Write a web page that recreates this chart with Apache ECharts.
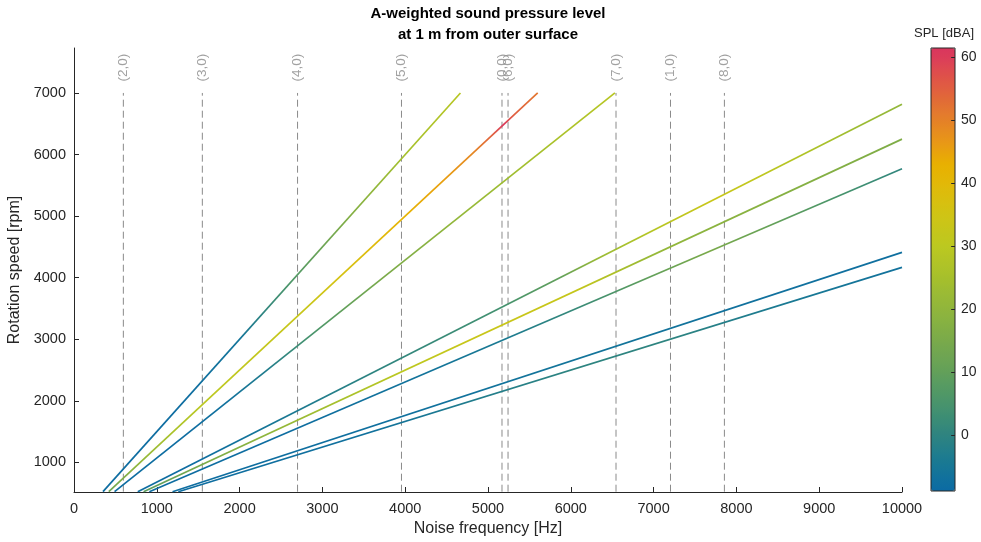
<!DOCTYPE html>
<html><head><meta charset="utf-8">
<script src="https://cdn.jsdelivr.net/npm/echarts@6/dist/echarts.min.js"></script>
<style>html,body{margin:0;padding:0;background:#fff}#c{width:981px;height:542px}</style>
</head><body><div id="c"></div>
<script>
// ---------- data ----------
const xTicks = [0,1000,2000,3000,4000,5000,6000,7000,8000,9000,10000];
const yTicks = [1000,2000,3000,4000,5000,6000,7000];
const splTicks = [0,10,20,30,40,50,60];

// vertical (mode) lines: frequency [Hz] and label
const modeFreqs  = [596, 1550, 2700, 3955, 5169, 5242, 6546, 7204, 7855];
const modeLabels = ['(2,0)','(3,0)','(4,0)','(5,0)','(0,0)','(6,0)','(7,0)','(1,0)','(8,0)'];

// order lines: start and end points [frequency Hz, rpm]
const lineStart = [[350,525],[420,525],[490,525],[770,525],[840,525],[910,525],[1190,525],[1260,525]];
const lineEnd   = [[4667,7000],[5600,7000],[6533,7000],[10000,6818],[10000,6250],[10000,5769],[10000,4412],[10000,4167]];

// SPL [dBA] along each line: [rpm, SPL]
const splA = [[525,-8],[2000,-8],[2500,-7],[3000,-6],[3500,1],[4000,7],[4500,12],[5000,17],[5500,21],[6000,25],[6500,27],[7000,29]];
const splB = [[525,12],[1000,20],[1500,26],[2000,30],[2500,31],[3000,32],[3500,33],[4000,36],[4500,39],[5000,42],[5500,45],[6000,49],[6300,55],[6450,61],[6600,55],[7000,51]];
const splC = [[525,-8],[1500,-8],[2000,-7],[2500,-3],[3000,4],[3500,10],[4000,15],[4500,18],[5000,21],[5500,23],[6000,25],[6500,27],[7000,29]];
const splD = [[525,-8],[1000,-8],[1500,-6],[2000,-3],[2500,0],[3000,2],[3500,4],[4000,10],[4300,22],[4700,28],[5200,33],[5600,31],[6000,27],[6400,23],[6818,20]];
const splE = [[525,8],[1000,15],[1500,20],[2000,25],[2500,30],[3000,33],[3500,33],[3800,32],[4300,22],[4700,19],[5200,18],[5700,17],[6250,16]];
const splF = [[525,-8],[1500,-8],[2000,-7],[2500,-6],[3000,-4],[3500,2],[4000,10],[4400,15],[4800,11],[5300,5],[5769,0]];
const splG = [[525,-8],[1500,-7.5],[2500,-6],[3000,-6],[3500,-7],[4412,-7.5]];
const splH = [[525,-8],[1500,-7],[2000,-3],[2500,0],[3000,0],[3500,-4],[4167,-7]];
const splLines = [splA, splB, splC, splD, splE, splF, splG, splH];

const splMin = -8.9, splMax = 61.4;

// ---------- style ----------
const FONT = 'Liberation Sans, Arial, Helvetica, sans-serif';
const AX = '#262626';
const cmap = [[-9,'#0b6aa4'],[-5,'#167796'],[0,'#2e8480'],[5,'#48946c'],[10,'#62a05a'],[15,'#7aaa4a'],[20,'#90b63c'],[25,'#a6c02c'],[30,'#bcc820'],[35,'#d0c414'],[40,'#e2b808'],[43,'#e8b000'],[46,'#e89a14'],[50,'#e48028'],[55,'#e05e40'],[60,'#dc3c5a'],[62,'#d8345e']];
function hex2rgb(h){return [parseInt(h.substr(1,2),16),parseInt(h.substr(3,2),16),parseInt(h.substr(5,2),16)];}
function splColor(v){
  if (v<=cmap[0][0]) return cmap[0][1];
  for (let i=1;i<cmap.length;i++){
    if (v<=cmap[i][0]){
      const a=hex2rgb(cmap[i-1][1]), b=hex2rgb(cmap[i][1]);
      const t=(v-cmap[i-1][0])/(cmap[i][0]-cmap[i-1][0]);
      return 'rgb('+a.map((x,k)=>Math.round(x+(b[k]-x)*t)).join(',')+')';
    }
  }
  return cmap[cmap.length-1][1];
}
function lineGradient(i){
  const r0=lineStart[i][1], r1=lineEnd[i][1];
  const stops = splLines[i].map(p=>({offset: Math.min(1,Math.max(0,(p[0]-r0)/(r1-r0))), color: splColor(p[1])}));
  return new echarts.graphic.LinearGradient(0,1,0,0,stops);
}
const cbarColors=[]; for(let i=0;i<=70;i++){cbarColors.push(splColor(splMin+(splMax-splMin)*i/70));}
const plain = v => String(v);

const CB_LEFT = 931, CB_W = 24, TOP = 48, H = 443;

const series = [];
modeFreqs.forEach(f=>{
  series.push({type:'line', xAxisIndex:0, yAxisIndex:0, data:[[f,525],[f,7000]], symbol:'none', silent:true,
    lineStyle:{color:'#8a8a8a', width:1, type:[7,4]}, z:2});
});
series.push({type:'scatter', xAxisIndex:0, yAxisIndex:0, symbolSize:1, itemStyle:{color:'rgba(0,0,0,0)'}, silent:true,
  data: modeFreqs.map((f,i)=>({value:[f,7000], name:modeLabels[i]})),
  label:{show:true, formatter:'{b}', position:'top', distance:11, rotate:90, align:'left', verticalAlign:'middle',
    color:'#8a8a8a', fontSize:13.5, fontFamily:FONT}, z:2});
lineStart.forEach((s,i)=>{
  series.push({type:'line', xAxisIndex:0, yAxisIndex:0, data:[s,lineEnd[i]], symbol:'none', silent:true,
    lineStyle:{width:1.7, color: lineGradient(i)}, z:3});
});
const dummyIndex = series.length;
series.push({type:'scatter', xAxisIndex:1, yAxisIndex:1, data:[], silent:true, z:12,
  markLine:{silent:true, symbol:['none','none'], animation:false, label:{show:false},
    lineStyle:{color:AX, width:1, type:'solid'},
    data: splTicks.map(v=>[{coord:[0.84, v]},{coord:[1, v]}])}});

const option = {
  animation:false,
  backgroundColor:'#fff',
  textStyle:{fontFamily:FONT},
  title:[
    {text:'A-weighted sound pressure level\nat 1 m from outer surface', left:488, textAlign:'center', top:3.5, padding:0,
     textStyle:{fontSize:15, fontWeight:'bold', color:'#000', lineHeight:21, fontFamily:FONT}},
    {text:'SPL [dBA]', left:944, textAlign:'center', top:25, padding:0,
     textStyle:{fontSize:13, fontWeight:'normal', color:AX, lineHeight:16, fontFamily:FONT}}
  ],
  grid:[
    {left:74, right:79, top:TOP, bottom:50, outerBoundsMode:'none', containLabel:false},
    {left:CB_LEFT, width:CB_W, top:TOP, height:H, show:true, borderColor:AX, borderWidth:1, backgroundColor:'transparent', z:10, outerBoundsMode:'none', containLabel:false}
  ],
  xAxis:[
    {gridIndex:0, type:'value', min:0, max:10000, interval:1000,
     name:'Noise frequency [Hz]', nameLocation:'middle', nameGap:29, nameTextStyle:{fontSize:16, color:AX},
     axisLine:{lineStyle:{color:AX}}, axisTick:{inside:true, length:5, lineStyle:{color:AX}},
     axisLabel:{color:AX, fontSize:14.5, margin:9, formatter:plain}, splitLine:{show:false}},
    {gridIndex:1, type:'value', min:0, max:1, show:false}
  ],
  yAxis:[
    {gridIndex:0, type:'value', min:520, max:7730,
     name:'Rotation speed [rpm]', nameLocation:'middle', nameGap:45, nameTextStyle:{fontSize:16, color:AX},
     axisLine:{show:true, lineStyle:{color:AX}},
     axisTick:{show:true, inside:true, length:5, lineStyle:{color:AX}, customValues:yTicks},
     axisLabel:{color:AX, fontSize:14.5, margin:8, customValues:yTicks, formatter:plain}, splitLine:{show:false}},
    {gridIndex:1, type:'value', min:splMin, max:splMax, position:'right', offset:0, z:11,
     axisLine:{show:false},
     axisTick:{show:false},
     axisLabel:{color:AX, fontSize:14, margin:6, customValues:splTicks, formatter:plain}, splitLine:{show:false}}
  ],
  visualMap:[{type:'continuous', seriesIndex:dummyIndex, min:splMin, max:splMax, calculable:false, show:true,
    orient:'vertical', left:CB_LEFT, top:TOP, itemWidth:CB_W, itemHeight:H, padding:0, text:null, hoverLink:false,
    inRange:{color:cbarColors}}],
  series: series
};
const chart = echarts.init(document.getElementById('c'));
chart.setOption(option);
</script>
</body></html>
